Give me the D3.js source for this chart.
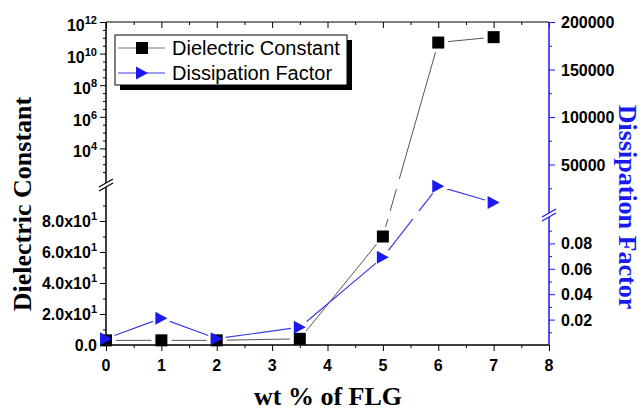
<!DOCTYPE html>
<html><head><meta charset="utf-8">
<script src="https://cdn.jsdelivr.net/npm/d3@7"></script>
<style>body{margin:0;background:#fff}svg{display:block}</style>
</head><body><svg id="c" width="642" height="412"></svg>
<script>
const wt = [0, 1, 2, 3.5, 5, 6, 7];
const dielectric = [3, 3, 3, 4, 70, 5e10, 1.1e11];
const dissipation = [0.005, 0.021, 0.005, 0.014, 0.069, 27000, 10000];
const xTicks = [0,1,2,3,4,5,6,7,8];
const leftLowTicks = [0,20,40,60,80];
const leftLowLabels = ["0.0","2.0x10|1","4.0x10|1","6.0x10|1","8.0x10|1"];
const leftUpTicks = [1e4,1e6,1e8,1e10,1e12];
const leftUpLabels = ["10|4","10|6","10|8","10|10","10|12"];
const rightUpTicks = [50000,100000,150000,200000];
const rightLowTicks = [0.02,0.04,0.06,0.08];
const rightLowLabels = ["0.02","0.04","0.06","0.08"];

const svg = d3.select("#c");
const BLUE = "#1a1af0";
const x = d3.scaleLinear([0,8],[106,549]);
const yLU = d3.scaleLog([1e2,1e12],[180,22]);
const yLL = d3.scaleLinear([0,100],[345,190]);
const yRU = d3.scaleLinear([0,200000],[212,22]);
const yRL = d3.scaleLinear([0,0.1],[345,218]);
const yL = v => v > 100 ? yLU(v) : yLL(v);
const yR = v => v > 1 ? yRU(v) : yRL(v);
const tickFont = "'Liberation Sans', Arial, sans-serif";
const titleFont = "'Liberation Serif', 'Times New Roman', serif";

// clip for lines (gaps at breaks)
const defs = svg.append("defs");
const cp = defs.append("clipPath").attr("id","gap");
[[0,179],[189,211],[219,412]].forEach(([a,b])=>cp.append("rect").attr("x",0).attr("y",a).attr("width",642).attr("height",b-a));

function styleAxis(g, color){
  g.select(".domain").remove();
  g.selectAll("line").attr("stroke",color).attr("stroke-width",1);
  g.selectAll("text").remove();
}
const halves = d3.range(0,8.01,0.5);
const minorX = halves.filter(v=>v%1!==0);
// bottom axis
svg.append("g").attr("transform","translate(0,345)").call(d3.axisBottom(x).tickValues(xTicks).tickSize(6)).call(g=>styleAxis(g,"#000"));
svg.append("g").attr("transform","translate(0,345)").call(d3.axisBottom(x).tickValues(minorX).tickSize(3)).call(g=>styleAxis(g,"#000"));
// top axis (inward)
svg.append("g").attr("transform","translate(0,22)").call(d3.axisBottom(x).tickValues(xTicks).tickSize(6)).call(g=>styleAxis(g,"#000"));
svg.append("g").attr("transform","translate(0,22)").call(d3.axisBottom(x).tickValues(minorX).tickSize(3)).call(g=>styleAxis(g,"#000"));
// left axes
svg.append("g").attr("transform","translate(106,0)").call(d3.axisLeft(yLL).tickValues(leftLowTicks).tickSize(6)).call(g=>styleAxis(g,"#000"));
svg.append("g").attr("transform","translate(106,0)").call(d3.axisLeft(yLL).tickValues([10,30,50,70,90]).tickSize(3)).call(g=>styleAxis(g,"#000"));
svg.append("g").attr("transform","translate(106,0)").call(d3.axisLeft(yLU).tickValues(leftUpTicks).tickSize(6)).call(g=>styleAxis(g,"#000"));
const luMinor = d3.range(2.5,12,0.5).filter(v=>!(v%2===0 && v>=4)).map(v=>Math.pow(10,v));
svg.append("g").attr("transform","translate(106,0)").call(d3.axisLeft(yLU).tickValues(luMinor).tickSize(3)).call(g=>styleAxis(g,"#000"));
// right axes
svg.append("g").attr("transform","translate(549,0)").call(d3.axisRight(yRU).tickValues(rightUpTicks).tickSize(6)).call(g=>styleAxis(g,BLUE));
svg.append("g").attr("transform","translate(549,0)").call(d3.axisRight(yRU).tickValues([25000,75000,125000,175000]).tickSize(3)).call(g=>styleAxis(g,BLUE));
svg.append("g").attr("transform","translate(549,0)").call(d3.axisRight(yRL).tickValues(rightLowTicks).tickSize(6)).call(g=>styleAxis(g,BLUE));
svg.append("g").attr("transform","translate(549,0)").call(d3.axisRight(yRL).tickValues([0.01,0.03,0.05,0.07,0.09]).tickSize(3)).call(g=>styleAxis(g,BLUE));

// frame lines
svg.append("line").attr("x1",106).attr("x2",549).attr("y1",22).attr("y2",22).attr("stroke","#000").attr("stroke-width",1.2);
svg.append("line").attr("x1",106).attr("x2",549).attr("y1",345).attr("y2",345).attr("stroke","#000").attr("stroke-width",1.5);
svg.append("line").attr("x1",106).attr("x2",106).attr("y1",22).attr("y2",345).attr("stroke","#000").attr("stroke-width",1.5);
svg.append("line").attr("x1",549).attr("x2",549).attr("y1",22).attr("y2",345).attr("stroke",BLUE).attr("stroke-width",1.5);

// break marks
function brk(cx, cy, color){
  const g = svg.append("g");
  g.append("polygon").attr("points",`${cx-7},${cy+2} ${cx+7},${cy-6} ${cx+7},${cy-2} ${cx-7},${cy+6}`).attr("fill","#fff");
  g.append("line").attr("x1",cx-7).attr("y1",cy+2).attr("x2",cx+7).attr("y2",cy-6).attr("stroke",color).attr("stroke-width",1.2);
  g.append("line").attr("x1",cx-7).attr("y1",cy+6).attr("x2",cx+7).attr("y2",cy-2).attr("stroke",color).attr("stroke-width",1.2);
}
brk(106,185,"#000");
brk(549,215,BLUE);

// tick labels
function supLabel(sel, s){
  const [b,e] = s.split("|");
  sel.append("tspan").text(b);
  if(e!==undefined) sel.append("tspan").attr("font-size",11).attr("dy",-7).text(e);
}
svg.append("g").selectAll("text").data(xTicks).join("text")
  .attr("x",d=>x(d)).attr("y",371).attr("text-anchor","middle")
  .attr("font-family",tickFont).attr("font-weight","bold").attr("font-size",16).text(d=>d);
leftLowTicks.forEach((v,i)=>{
  const t = svg.append("text").attr("x",97).attr("y",yLL(v)+6).attr("text-anchor","end")
    .attr("font-family",tickFont).attr("font-weight","bold").attr("font-size",16);
  supLabel(t,leftLowLabels[i]);
});
leftUpTicks.forEach((v,i)=>{
  const t = svg.append("text").attr("x",97).attr("y",yLU(v)+9).attr("text-anchor","end")
    .attr("font-family",tickFont).attr("font-weight","bold").attr("font-size",16);
  supLabel(t,leftUpLabels[i]);
});
svg.append("g").selectAll("text").data(rightUpTicks).join("text")
  .attr("x",561).attr("y",d=>yRU(d)+6).attr("font-family",tickFont).attr("font-weight","bold").attr("font-size",16).text(d=>d);
svg.append("g").selectAll("text").data(rightLowTicks).join("text")
  .attr("x",561).attr("y",d=>yRL(d)+6).attr("font-family",tickFont).attr("font-weight","bold").attr("font-size",16).text((d,i)=>rightLowLabels[i]);

// titles
svg.append("text").attr("x",328).attr("y",405).attr("text-anchor","middle")
  .attr("font-family",titleFont).attr("font-weight","bold").attr("font-size",26).text("wt % of FLG");
svg.append("text").attr("transform","translate(31,204) rotate(-90)").attr("text-anchor","middle")
  .attr("font-family",titleFont).attr("font-weight","bold").attr("font-size",26).text("Dielectric Constant");
svg.append("text").attr("transform","translate(619,207) rotate(90)").attr("text-anchor","middle")
  .attr("font-family",titleFont).attr("font-weight","bold").attr("font-size",26).attr("fill",BLUE).text("Dissipation Factor");

// series lines with gaps
function segs(pts, gap){
  const out=[];
  for(let i=0;i<pts.length-1;i++){
    const [x1,y1]=pts[i],[x2,y2]=pts[i+1];
    const L=Math.hypot(x2-x1,y2-y1); const ux=(x2-x1)/L, uy=(y2-y1)/L;
    out.push([x1+ux*gap,y1+uy*gap,x2-ux*gap,y2-uy*gap]);
  }
  return out;
}
const ptsD = wt.map((w,i)=>[x(w), yL(dielectric[i])]);
const ptsF = wt.map((w,i)=>[x(w), yR(dissipation[i])]);
const lg = svg.append("g").attr("clip-path","url(#gap)");
lg.selectAll("line.d").data(segs(ptsD,10)).join("line").attr("class","d")
  .attr("x1",d=>d[0]).attr("y1",d=>d[1]).attr("x2",d=>d[2]).attr("y2",d=>d[3]).attr("stroke","#555").attr("stroke-width",1);
lg.selectAll("line.f").data(segs(ptsF,9)).join("line").attr("class","f")
  .attr("x1",d=>d[0]).attr("y1",d=>d[1]).attr("x2",d=>d[2]).attr("y2",d=>d[3]).attr("stroke","#3b3be6").attr("stroke-width",1.2);

// markers
const tri = "M-6,-6.5L6,0L-6,6.5Z";
svg.append("g").selectAll("rect").data(ptsD).join("rect")
  .attr("x",d=>d[0]-6).attr("y",d=>d[1]-6).attr("width",12).attr("height",12).attr("fill","#000");
svg.append("g").selectAll("path").data(ptsF).join("path")
  .attr("d",tri).attr("transform",d=>`translate(${d[0]},${d[1]})`).attr("fill",BLUE);

// legend
svg.append("rect").attr("x",120).attr("y",40).attr("width",232).attr("height",50).attr("fill","#000");
svg.append("rect").attr("x",115).attr("y",35).attr("width",232).attr("height",50).attr("fill","#fff").attr("stroke","#000").attr("stroke-width",1);
svg.append("line").attr("x1",118).attr("x2",165).attr("y1",48).attr("y2",48).attr("stroke","#777");
svg.append("rect").attr("x",136).attr("y",42).attr("width",12).attr("height",12).attr("fill","#000");
svg.append("line").attr("x1",118).attr("x2",165).attr("y1",73).attr("y2",73).attr("stroke","#3b3be6");
svg.append("path").attr("d",tri).attr("transform","translate(142,73)").attr("fill",BLUE);
svg.append("text").attr("x",172).attr("y",55).attr("font-family",tickFont).attr("font-size",20).text("Dielectric Constant");
svg.append("text").attr("x",172).attr("y",80).attr("font-family",tickFont).attr("font-size",20).text("Dissipation Factor");
</script></body></html>
